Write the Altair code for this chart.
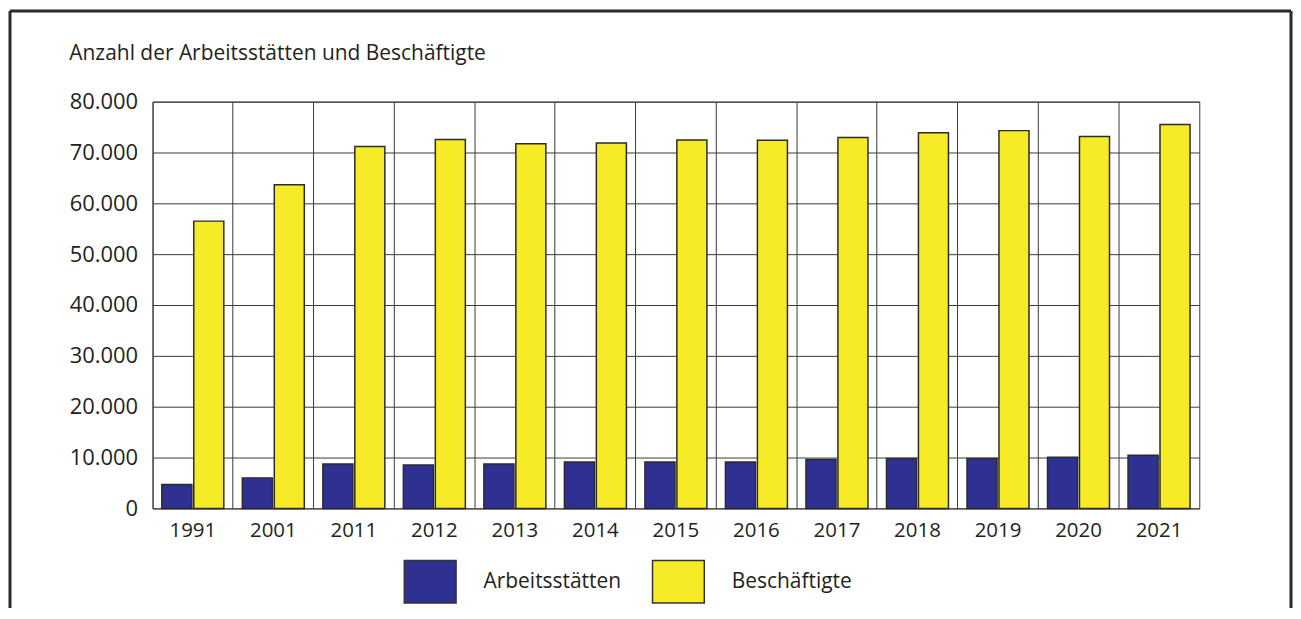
import altair as alt
import pandas as pd

years = ["1991", "2001", "2011", "2012", "2013", "2014", "2015", "2016", "2017", "2018", "2019", "2020", "2021"]
arbeitsstaetten = [4700, 6000, 8750, 8550, 8750, 9100, 9100, 9100, 9600, 9800, 9800, 10050, 10450]
beschaeftigte = [56500, 63650, 71200, 72550, 71700, 71850, 72480, 72420, 72950, 73900, 74300, 73150, 75500]
series = ["Arbeitsstätten", "Beschäftigte"]
colors = ["#2e3192", "#f7eb27"]
y_ticks = [0, 10000, 20000, 30000, 40000, 50000, 60000, 70000, 80000]
title_text = "Anzahl der Arbeitsstätten und Beschäftigte"

rows = []
for i, yr in enumerate(years):
    rows.append({"Jahr": yr, "Reihe": series[0], "Wert": arbeitsstaetten[i]})
    rows.append({"Jahr": yr, "Reihe": series[1], "Wert": beschaeftigte[i]})
df = pd.DataFrame(rows)

FONT = "Open Sans"
TXT = "#231f20"
GRID = "#3a3a3a"

bars = alt.Chart(df).mark_bar(stroke="#2b2b2b", strokeWidth=1.5).encode(
    x=alt.X("Jahr:N", sort=years, title=None,
            scale=alt.Scale(paddingInner=0, paddingOuter=0),
            axis=alt.Axis(labelAngle=0, grid=True, bandPosition=0, gridColor=GRID,
                          gridWidth=1, ticks=False, domain=False, labelPadding=12,
                          labelFontSize=20.5, labelFont=FONT, labelColor=TXT)),
    xOffset=alt.XOffset("Reihe:N", sort=series,
                        scale=alt.Scale(paddingInner=0.06, paddingOuter=0.29)),
    y=alt.Y("Wert:Q", title=title_text,
            scale=alt.Scale(domain=[0, 80000], nice=False),
            axis=alt.Axis(values=y_ticks, grid=True, gridColor=GRID, gridWidth=1,
                          ticks=False, domain=False, labelPadding=15,
                          labelFontSize=22, labelFont=FONT, labelColor=TXT,
                          labelExpr="replace(format(datum.value, ','), ',', '.')",
                          titleAngle=0, titleAlign="left", titleBaseline="middle",
                          titleX=-84, titleY=-48, titleFontSize=21,
                          titleFont=FONT, titleFontWeight="normal", titleColor=TXT)),
    color=alt.Color("Reihe:N", sort=series, title=None,
                    scale=alt.Scale(domain=series, range=colors),
                    legend=alt.Legend(orient="none", legendX=254, legendY=457,
                                      direction="horizontal", padding=0,
                                      symbolType="M-1.1,-0.9H1.1V0.9H-1.1Z",
                                      symbolSize=2230, symbolStrokeColor="#333",
                                      symbolStrokeWidth=1.5, symbolOpacity=1,
                                      labelFontSize=21, labelFont=FONT, labelColor=TXT,
                                      labelOffset=29, columnPadding=27,
                                      labelLimit=400)),
)

frame_df = pd.DataFrame({"k": [0]})
frame_left = alt.Chart(frame_df).mark_rule(color="#2a2a2a", strokeWidth=3).encode(
    x=alt.value(-143), y=alt.value(-91), y2=alt.value(508))
frame_right = alt.Chart(frame_df).mark_rule(color="#2a2a2a", strokeWidth=3).encode(
    x=alt.value(1142), y=alt.value(-91), y2=alt.value(508))
frame_top = alt.Chart(frame_df).mark_rule(color="#2a2a2a", strokeWidth=3).encode(
    x=alt.value(-143), x2=alt.value(1142), y=alt.value(-91))

chart = alt.layer(bars, frame_left, frame_right, frame_top).properties(
    width=1050, height=408, padding=0,
).configure_view(stroke=GRID, strokeWidth=1)

chart.save("out.html", embed_options={"renderer": "svg", "actions": False})
